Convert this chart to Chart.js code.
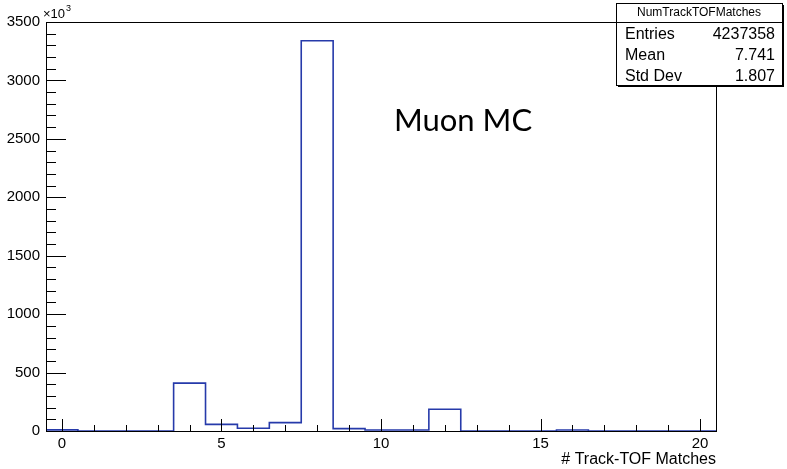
<!DOCTYPE html>
<html>
<head>
<meta charset="utf-8">
<script src="https://cdn.jsdelivr.net/npm/chart.js@4.4.1/dist/chart.umd.min.js"></script>
<style>
	body { margin: 0; background: #fff; }
	#wrap { width: 787px; height: 469px; }
</style>
</head>
<body>
<div id="wrap"><canvas id="hist" width="787" height="469"></canvas></div>
<script>
// bin centres (track-TOF matches) and counts in units of 10^3
var binCenters = [0, 1, 2, 3, 4, 5, 6, 7, 8, 9, 10, 11, 12, 13, 14, 15, 16, 17, 18, 19, 20];
var counts = [10, 0, 0, 0, 410, 57, 24, 72, 3340, 20, 8, 8, 186, 0, 0, 0, 8, 0, 0, 0, 0];
var xTicks = [0, 5, 10, 15, 20];
var yTicks = [0, 500, 1000, 1500, 2000, 2500, 3000, 3500];
var statsTitle = "NumTrackTOFMatches";
var statsRows = [["Entries", "4237358"], ["Mean", "7.741"], ["Std Dev", "1.807"]];

var lineColor = 'rgb(38,58,170)';
var fontFam = '"Liberation Sans", Arial, sans-serif';

// step outline: each point sits on the lower edge of its bin, one extra point closes the last bin
var pts = binCenters.map(function(c, i) {
	return { x: c - 0.5, y: counts[i] };
});
pts.push({ x: binCenters[binCenters.length - 1] + 0.5, y: counts[counts.length - 1] });

// ROOT style frame, inward ticks, stats box and labels
var rootDeco = {
	id: 'rootDeco',
	afterDraw: function(chart) {
		var ctx = chart.ctx;
		var a = chart.chartArea;
		var xs = chart.scales.x, ys = chart.scales.y;
		ctx.save();
		ctx.strokeStyle = '#000';
		ctx.lineWidth = 1;
		ctx.strokeRect(Math.round(a.left) + 0.5, Math.round(a.top) + 0.5, Math.round(a.right - a.left), Math.round(a.bottom - a.top));

		ctx.beginPath();
		var v, p;
		for (v = 0; v <= 3500; v += 100) {
			p = Math.round(ys.getPixelForValue(v)) + 0.5;
			ctx.moveTo(a.left, p);
			ctx.lineTo(a.left + (v % 500 === 0 ? 20 : 10), p);
		}
		for (v = 0; v <= 20; v += 1) {
			p = Math.round(xs.getPixelForValue(v)) + 0.5;
			ctx.moveTo(p, a.bottom);
			ctx.lineTo(p, a.bottom - (v % 5 === 0 ? 12 : 6));
		}
		ctx.stroke();

		// x10^3 multiplier
		ctx.fillStyle = '#000';
		ctx.textBaseline = 'alphabetic';
		ctx.textAlign = 'left';
		ctx.font = '13px ' + fontFam;
		ctx.fillText('\u00d710', 43, 18);
		var w = ctx.measureText('\u00d710').width;
		ctx.font = '9px ' + fontFam;
		ctx.fillText('3', 43 + w + 1, 11);

		// stats box
		var bx = 616, by = 3, bw = 166, bh = 82;
		ctx.fillStyle = '#000';
		ctx.fillRect(bx + 2, by + 2, bw, bh);
		ctx.fillStyle = '#fff';
		ctx.fillRect(bx, by, bw, bh);
		ctx.strokeRect(bx + 0.5, by + 0.5, bw, bh);
		ctx.beginPath();
		ctx.moveTo(bx, by + 19.5);
		ctx.lineTo(bx + bw, by + 19.5);
		ctx.stroke();
		ctx.fillStyle = '#000';
		ctx.textBaseline = 'middle';
		ctx.textAlign = 'center';
		ctx.font = '12px ' + fontFam;
		ctx.fillText(statsTitle, bx + bw / 2, by + 10);
		ctx.font = '16px ' + fontFam;
		statsRows.forEach(function(r, i) {
			var yy = 35 + i * 21;
			ctx.textAlign = 'left';
			ctx.fillText(r[0], bx + 9, yy);
			ctx.textAlign = 'right';
			ctx.fillText(r[1], bx + bw - 7, yy);
		});

		// label
		ctx.textAlign = 'left';
		ctx.textBaseline = 'alphabetic';
		ctx.font = '31px Lato, "DejaVu Sans", sans-serif';
		ctx.fillText('Muon MC', 394, 131);
		ctx.restore();
	}
};

var ctx1 = document.getElementById('hist');
var histChart = new Chart(ctx1, {
	type: 'line',
	data: {
		datasets: [{
			data: pts,
			stepped: 'before',
			borderColor: lineColor,
			borderWidth: 1.6,
			pointRadius: 0,
			fill: false
		}]
	},
	options: {
		responsive: false,
		animation: false,
		events: [],
		layout: { padding: { top: 22, right: 71, left: 0, bottom: 0 } },
		plugins: {
			legend: { display: false },
			tooltip: { enabled: false }
		},
		scales: {
			x: {
				type: 'linear',
				min: -0.5,
				max: 20.5,
				afterBuildTicks: function(scale) {
					scale.ticks = xTicks.map(function(t) { return { value: t }; });
				},
				afterFit: function(scale) { scale.height = 38; },
				grid: { display: false, drawTicks: false },
				border: { display: false },
				ticks: {
					color: '#000',
					font: { family: fontFam, size: 15 },
					padding: 4,
					maxRotation: 0,
					callback: function(v) { return String(v); }
				},
				title: {
					display: true,
					text: '# Track-TOF Matches',
					align: 'end',
					color: '#000',
					font: { family: fontFam, size: 16 },
					padding: { top: 0, bottom: 0 }
				}
			},
			y: {
				min: 0,
				max: 3500,
				afterBuildTicks: function(scale) {
					scale.ticks = yTicks.map(function(t) { return { value: t }; });
				},
				afterFit: function(scale) { scale.width = 46; },
				grid: { display: false, drawTicks: false },
				border: { display: false },
				ticks: {
					color: '#000',
					font: { family: fontFam, size: 15 },
					padding: 6,
					callback: function(v) { return String(v); }
				}
			}
		}
	},
	plugins: [rootDeco]
});
</script>
</body>
</html>
